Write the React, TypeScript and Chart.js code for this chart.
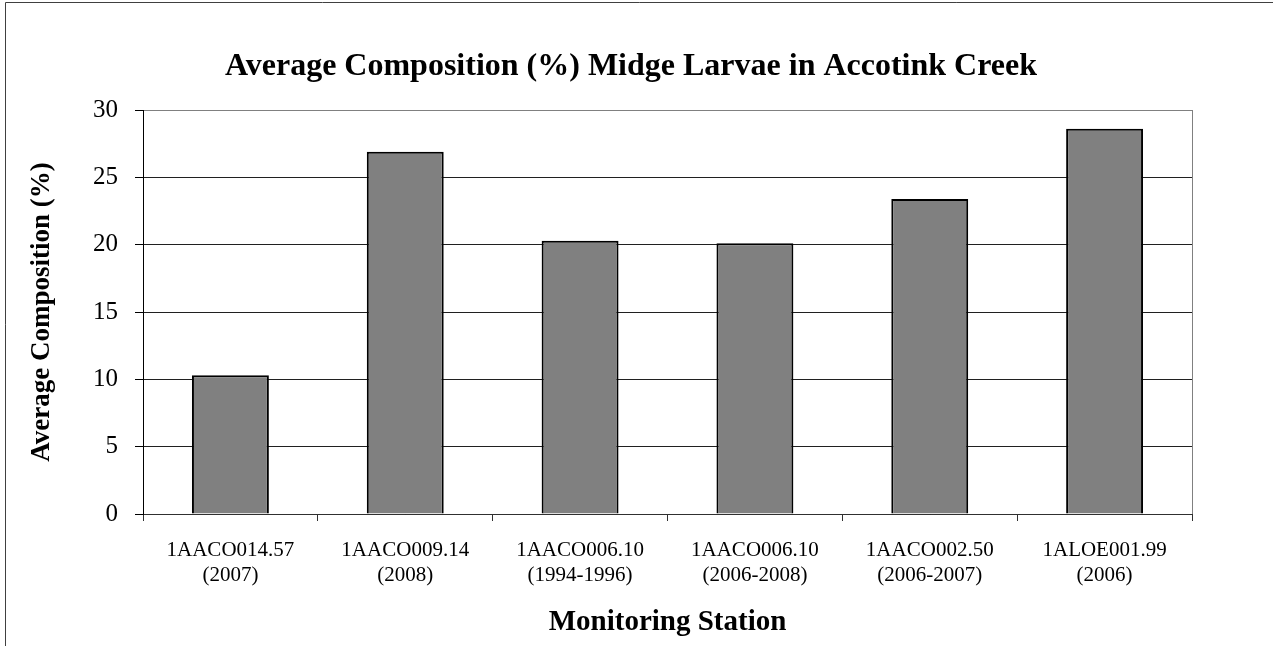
import React, { useEffect, useRef } from "react";
import { Chart, registerables } from "chart.js";

Chart.register(...registerables);

const categories: string[][] = [
  ["1AACO014.57", "(2007)"],
  ["1AACO009.14", "(2008)"],
  ["1AACO006.10", "(1994-1996)"],
  ["1AACO006.10", "(2006-2008)"],
  ["1AACO002.50", "(2006-2007)"],
  ["1ALOE001.99", "(2006)"],
];
const compositionValues: number[] = [10.3, 26.9, 20.3, 20.1, 23.4, 28.6];
const yTickMin = 0;
const yTickMax = 30;
const yTickStep = 5;

const chartTitle = "Average Composition (%) Midge Larvae in Accotink Creek";
const yAxisTitle = "Average Composition (%)";
const xAxisTitle = "Monitoring Station";

const FONT = "'Liberation Serif', 'Times New Roman', serif";
const W = 1273;
const H = 646;
const PLOT_LEFT = 143;
const PLOT_BOTTOM = 514;
const RIGHT_PAD = 11;
const RIGHT_SPACER = 1273 - 1192 - RIGHT_PAD;

const framePlugin = {
  id: "frame",
  beforeDraw(chart: any) {
    const ctx = chart.ctx;
    ctx.save();
    ctx.fillStyle = "#ffffff";
    ctx.fillRect(0, 0, chart.width, chart.height);
    ctx.strokeStyle = "#404040";
    ctx.lineWidth = 1;
    ctx.beginPath();
    ctx.moveTo(5.5, chart.height);
    ctx.lineTo(5.5, 2.5);
    ctx.lineTo(chart.width, 2.5);
    ctx.stroke();
    ctx.restore();
  },
  afterDatasetsDraw(chart: any) {
    const { ctx, chartArea } = chart;
    ctx.save();
    ctx.strokeStyle = "#808080";
    ctx.lineWidth = 1;
    ctx.beginPath();
    const r = Math.round(chartArea.right) + 0.5;
    ctx.moveTo(r, chartArea.top);
    ctx.lineTo(r, chartArea.bottom);
    ctx.stroke();
    ctx.restore();
  },
};

export default function App() {
  const ref = useRef<HTMLCanvasElement | null>(null);

  useEffect(() => {
    if (!ref.current) return;
    const chart = new Chart(ref.current, {
      type: "bar",
      data: {
        labels: categories,
        datasets: [
          {
            data: compositionValues,
            backgroundColor: "#808080",
            borderColor: "#000000",
            borderWidth: 2,
            barPercentage: 0.44,
            categoryPercentage: 1,
          },
        ],
      },
      options: {
        responsive: false,
        animation: false,
        devicePixelRatio: 1,
        layout: { padding: { left: 0, right: RIGHT_PAD, top: 0, bottom: 0 } },
        plugins: {
          legend: { display: false },
          tooltip: { enabled: false },
          title: {
            display: true,
            text: chartTitle,
            color: "#000",
            font: { family: FONT, size: 32, weight: "bold" },
            padding: { top: 48, bottom: 23.6 },
          },
        },
        scales: {
          x: {
            offset: true,
            grid: {
              offset: true,
              drawOnChartArea: false,
              drawTicks: true,
              tickLength: 7,
              color: "#303030",
              tickColor: "#303030",
            },
            border: { display: true, color: "#303030", width: 1 },
            ticks: {
              color: "#000",
              font: { family: FONT, size: 21 },
              padding: 17,
              maxRotation: 0,
              autoSkip: false,
            },
            title: {
              display: true,
              text: xAxisTitle,
              color: "#000",
              font: { family: FONT, size: 29, weight: "bold" },
              padding: { top: 0, bottom: 6 },
            },
            afterFit(scale: any) {
              scale.height = H - PLOT_BOTTOM;
            },
          },
          y: {
            min: yTickMin,
            max: yTickMax,
            ticks: {
              stepSize: yTickStep,
              color: "#000",
              font: { family: FONT, size: 25 },
              padding: 17,
            },
            grid: {
              color: (c: any) => (c.tick && c.tick.value === yTickMax ? "#808080" : "#202020"),
              tickColor: "#000",
              tickLength: 8,
              drawTicks: true,
            },
            border: { display: true, color: "#000", width: 1 },
            title: {
              display: true,
              text: yAxisTitle,
              color: "#000",
              font: { family: FONT, size: 27, weight: "bold" },
              padding: { top: 26, bottom: 0 },
            },
            afterFit(scale: any) {
              scale.width = PLOT_LEFT;
            },
          },
          spacer: {
            type: "linear",
            position: "right",
            display: true,
            grid: { display: false, drawTicks: false },
            ticks: { display: false },
            border: { display: false },
            afterFit(scale: any) {
              scale.width = RIGHT_SPACER;
            },
          },
        },
      },
      plugins: [framePlugin],
    });
    return () => chart.destroy();
  }, []);

  return (
    <div style={{ position: "absolute", left: 0, top: 0, width: W, height: H }}>
      <canvas ref={ref} width={W} height={H} style={{ display: "block" }} />
    </div>
  );
}
